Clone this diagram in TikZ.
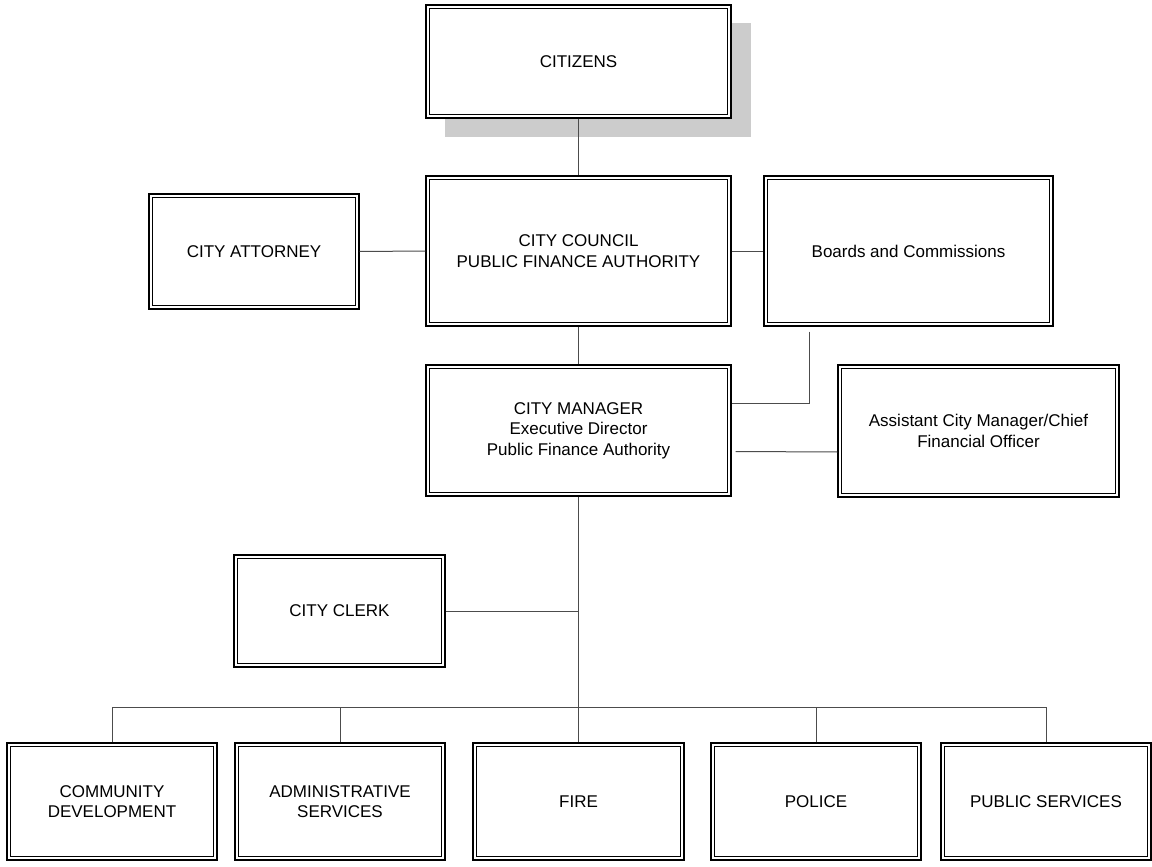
\documentclass[tikz,border=0pt]{standalone}
\usepackage{fontspec}
\setmainfont{Liberation Sans}
\tikzset{
  orgbox/.style={draw=black, line width=1.1pt, fill=white, inner sep=0pt, align=center,
    font=\fontsize{17}{20.5}\selectfont},
  inner/.style={draw=black, line width=1.7pt},
  conn/.style={draw=black!70, line width=1pt},
  shade/.style={fill=black!20},
}
\newcommand\mkbox[6]{%
  \node[orgbox, minimum width={#4-#2}, minimum height={#5-#3}] (#1) at ({(#2+#4)/2},{(#3+#5)/2}) {#6};
  \draw[inner] ([shift={(4pt,-4pt)}]#1.north west) rectangle ([shift={(-4pt,4pt)}]#1.south east);
}
\begin{document}
\begin{tikzpicture}[x=1pt,y=-1pt]
\useasboundingbox[fill=white] (0,0) rectangle (1152,867);
\fill[shade] (445,23) rectangle (751,137);
\mkbox{cit}{426}{5}{731}{118}{CITIZENS}
\mkbox{cc}{426}{176}{731}{326}{CITY COUNCIL\\PUBLIC FINANCE AUTHORITY}
\mkbox{att}{149}{194}{359}{309}{CITY ATTORNEY}
\mkbox{bc}{764}{176}{1053}{326}{Boards and Commissions}
\mkbox{cm}{426}{365}{731}{496}{CITY MANAGER\\Executive Director\\Public Finance Authority}
\mkbox{ac}{838}{365}{1119}{497}{Assistant City Manager/Chief\\Financial Officer}
\mkbox{ck}{234}{555}{445}{667}{CITY CLERK}
\mkbox{cd}{7}{743}{217}{860}{COMMUNITY\\DEVELOPMENT}
\mkbox{as}{235}{743}{445}{860}{ADMINISTRATIVE\\SERVICES}
\mkbox{fi}{473}{743}{684}{860}{FIRE}
\mkbox{po}{711}{743}{921}{860}{POLICE}
\mkbox{ps}{941}{743}{1151}{860}{PUBLIC SERVICES}
\coordinate (bus) at (578,707);
\draw[conn] (cit.south) -- (cc.north);
\draw[conn] (att.east) -- (cc.west);
\draw[conn] (cc.east) -- (bc.west);
\draw[conn] (cc.south) -- (cm.north);
\draw[conn] ([shift={(46pt,-5pt)}]bc.south west) |- ([yshift=-39pt]cm.north east);
\draw[conn] ([shift={(4pt,-21pt)}]cm.east) -- ([yshift=-21pt]ac.west);
\draw[conn] (cm.south) -- (cm.south |- fi.north);
\draw[conn] (ck.east) -- (ck.east -| cm.south);
\foreach \n in {cd,as,po,ps} \draw[conn] (\n.north) |- (bus);
\end{tikzpicture}
\end{document}
